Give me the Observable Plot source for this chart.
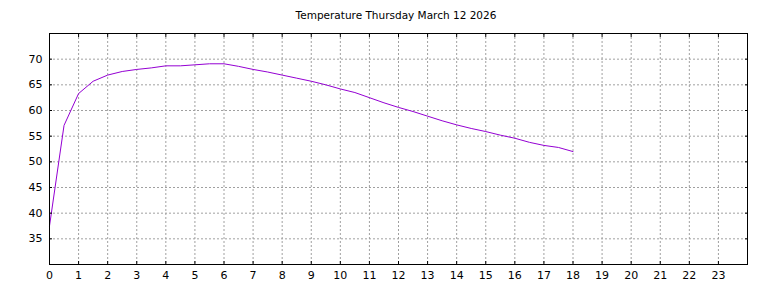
<!DOCTYPE html>
<html><head><meta charset="utf-8">
<script src="https://cdn.jsdelivr.net/npm/d3@7"></script>
<script src="https://cdn.jsdelivr.net/npm/@observablehq/plot@0.6"></script>
<style>
body{margin:0;background:#fff;font-family:"DejaVu Sans",sans-serif;}
#title{height:33px;box-sizing:border-box;padding-top:10px;padding-left:24px;width:768px;font-size:10.5px;line-height:11px;text-align:center;color:#000;}
</style></head><body>
<div id="title">Temperature Thursday March 12 2026</div>
<div id="chart"></div>
<script>
const hours = [0,0.5,1,1.5,2,2.5,3,3.5,4,4.5,5,5.5,6,6.5,7,7.5,8,8.5,9,9.5,10,10.5,11,11.5,12,12.5,13,13.5,14,14.5,15,15.5,16,16.5,17,17.5,18];
const temps = [37.5,57.1,63.3,65.7,66.9,67.6,68.0,68.3,68.7,68.7,68.9,69.1,69.1,68.6,68.0,67.5,66.9,66.3,65.7,65.0,64.2,63.5,62.5,61.5,60.6,59.8,58.9,58.0,57.2,56.5,55.9,55.2,54.6,53.8,53.2,52.8,52.0];
const xTicks = [0,1,2,3,4,5,6,7,8,9,10,11,12,13,14,15,16,17,18,19,20,21,22,23];
const yTicks = [35,40,45,50,55,60,65,70];

const data = hours.map((h, i) => ({hour: h, temp: temps[i]}));
const gridStyle = {stroke: "#a0a0a0", strokeOpacity: 1, strokeDasharray: "2,2"};

const chart = Plot.plot({
  width: 768, height: 255,
  marginTop: 0, marginBottom: 24, marginLeft: 49, marginRight: 21,
  style: {fontFamily: "DejaVu Sans", fontSize: "11px", color: "#000", background: "#fff"},
  x: {domain: [0, 24], label: null},
  y: {domain: [30, 75], label: null},
  marks: [
    Plot.gridX(xTicks, gridStyle),
    Plot.gridY(yTicks, gridStyle),
    Plot.line(data, {x: "hour", y: "temp", stroke: "#9400d3", strokeWidth: 1}),
    Plot.axisX(xTicks, {anchor: "bottom", tickSize: -3, tickPadding: 10, tickFormat: d => d, stroke: "#000", fill: "#000"}),
    Plot.axisX(xTicks, {anchor: "top", tickSize: -3, tickFormat: () => "", stroke: "#000"}),
    Plot.axisY(yTicks, {anchor: "left", tickSize: -3, tickPadding: 10, tickFormat: d => d, stroke: "#000", fill: "#000"}),
    Plot.axisY(yTicks, {anchor: "right", tickSize: -3, tickFormat: () => "", stroke: "#000"}),
    Plot.frame({stroke: "#000", strokeWidth: 1})
  ]
});
document.getElementById("chart").append(chart);
</script>
</body></html>
